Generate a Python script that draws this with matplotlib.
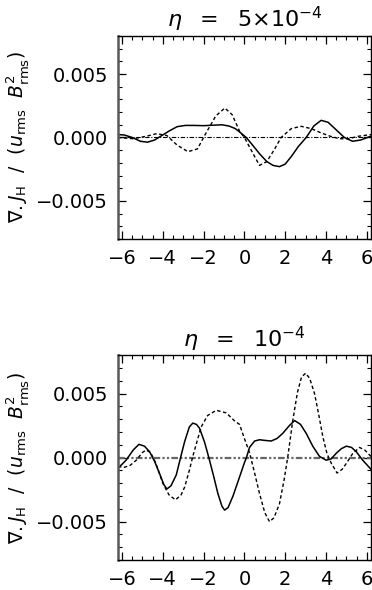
# -*- coding: utf-8 -*-
# two stacked panels of div J_H profiles for two eta values

import matplotlib as mpl
mpl.use('Agg')
import matplotlib.pyplot as plt
import matplotlib.ticker as mtick

mpl.rcParams['font.family'] = 'DejaVu Sans'
mpl.rcParams['font.size'] = 14
mpl.rcParams['mathtext.fontset'] = 'dejavusans'

# ---- top panel: eta = 5e-4 ----
top_solid_x = [-6.2, -5.9, -5.5, -5.1, -4.75, -4.4, -4.1, -3.7, -3.3, -2.9,
               -2.5, -2.0, -1.5, -1.1, -0.75, -0.45, -0.24, 0.09, 0.4, 0.75,
               1.1, 1.4, 1.72, 2.0, 2.3, 2.65, 3.03, 3.4, 3.76, 4.1,
               4.5, 4.9, 5.3, 5.7, 6.2]
top_solid_y = [0.00022, 0.0002, 0.0, -0.0003, -0.00037, -0.0002, 0.0001, 0.0005, 0.00085, 0.00095,
               0.00095, 0.00093, 0.00097, 0.001, 0.0009, 0.0007, 0.00044, 0.0, -0.0006, -0.0013,
               -0.0019, -0.0022, -0.0023, -0.0021, -0.0015, -0.0007, 0.0, 0.0009, 0.00135, 0.0012,
               0.0006, 0.0, -0.0003, -0.0002, 0.0001]

top_dash_x = [-6.2, -5.45, -4.8, -4.3, -3.8, -3.3, -2.77, -2.3, -1.9, -1.4,
              -0.96, -0.6, -0.24, 0.0, 0.4, 0.74, 1.1, 1.45, 1.8, 2.3,
              2.78, 3.27, 3.7, 4.2, 4.66, 5.1, 5.6, 6.2]
top_dash_y = [0.0, -0.0001, 0.0001, 0.0003, 0.00015, -0.0006, -0.00112, -0.0009, 0.0003, 0.0017,
              0.00232, 0.0018, 0.0005, 0.0, -0.0012, -0.0022, -0.0019, -0.001, 0.0, 0.0007,
              0.00088, 0.0007, 0.0004, 0.0001, -0.0001, -0.0001, 0.0001, 0.00023]

# ---- bottom panel: eta = 1e-4 ----
bot_solid_x = [-6.2, -5.8, -5.45, -5.17, -4.9, -4.65, -4.4, -4.17, -3.95, -3.8,
               -3.6, -3.34, -3.1, -2.93, -2.7, -2.53, -2.35, -2.2, -1.95, -1.71,
               -1.5, -1.3, -1.1, -0.97, -0.8, -0.56, -0.3, 0.0, 0.1, 0.25,
               0.5, 0.74, 1.0, 1.31, 1.6, 1.88, 2.2, 2.46, 2.75, 3.03,
               3.35, 3.68, 4.01, 4.25, 4.5, 4.75, 5.0, 5.25, 5.48, 5.8, 6.2]
bot_solid_y = [-0.00083, -0.0002, 0.0006, 0.00104, 0.0009, 0.00047, -0.0003, -0.0012, -0.0021, -0.00245,
               -0.0022, -0.00135, 0.0002, 0.00125, 0.0024, 0.0027, 0.0026, 0.0023, 0.0012, -0.0002,
               -0.0015, -0.0028, -0.0038, -0.0041, -0.0039, -0.003, -0.0018, -0.0004, 0.0, 0.0008,
               0.0013, 0.0014, 0.00135, 0.0013, 0.0015, 0.0019, 0.0025, 0.0029, 0.0026, 0.0019,
               0.0009, 0.0001, -0.0002, -0.0001, 0.00034, 0.0007, 0.0009, 0.0008, 0.00047, -0.0002, -0.0009]

bot_dash_x = [-6.2, -5.88, -5.6, -5.3, -5.0, -4.82, -4.6, -4.35, -4.0, -3.7,
              -3.38, -3.1, -2.93, -2.7, -2.53, -2.3, -2.12, -1.8, -1.38, -0.89,
              -0.5, -0.24, 0.0, 0.25, 0.5, 0.74, 1.0, 1.23, 1.45, 1.72,
              1.95, 2.13, 2.37, 2.6, 2.8, 3.0, 3.2, 3.44, 3.65, 3.85,
              4.05, 4.26, 4.54, 4.8, 5.0, 5.3, 5.64, 5.9, 6.2]
bot_dash_y = [-0.0007, -0.00075, -0.0006, -0.0002, 0.0004, 0.0006, 0.0004, -0.0004, -0.002, -0.0029,
              -0.0033, -0.0029, -0.0023, -0.001, 0.0001, 0.0014, 0.0024, 0.0033, 0.0037, 0.0035,
              0.0029, 0.0026, 0.0015, 0.0004, -0.0012, -0.0028, -0.0043, -0.005, -0.0047, -0.0036,
              -0.0017, 0.0001, 0.0029, 0.0051, 0.0063, 0.0066, 0.0062, 0.005, 0.0033, 0.0016,
              0.0003, -0.00044, -0.0012, -0.0009, -0.00044, 0.0003, 0.0008, 0.0006, 0.0001]

zero_x = [-6.2, 6.2]
zero_y = [0.0, 0.0]

titles = [r'$\eta\ \ =\ \ 5{\times}10^{-4}$', r'$\eta\ \ =\ \ 10^{-4}$']
ylabel = r'$\nabla.J_{\rm H}\ \ /\ \ (u_{\rm rms}\ \ B^2_{\rm rms})$'


def plotax(ax, sx, sy, dx, dy, title, zero_style):
    ax.plot(zero_x, zero_y, **zero_style)
    ax.plot(dx, dy, color='black', lw=1.0, linestyle=(0, (2.5, 1.8)))
    ax.plot(sx, sy, color='black', lw=1.1, solid_joinstyle='round')

    ax.set_xlim(-6.2, 6.2)
    ax.set_ylim(-0.008, 0.008)
    ax.xaxis.set_major_locator(mtick.MultipleLocator(2))
    ax.xaxis.set_minor_locator(mtick.MultipleLocator(0.5))
    ax.yaxis.set_major_locator(mtick.FixedLocator([-0.005, 0.0, 0.005]))
    ax.yaxis.set_minor_locator(mtick.MultipleLocator(0.001))
    ax.xaxis.set_major_formatter(mtick.FuncFormatter(
        lambda v, p: ('\u2212%d' % -v) if v < 0 else '%d' % v))
    ax.yaxis.set_major_formatter(mtick.FuncFormatter(
        lambda v, p: ('\u2212%.3f' % -v) if v < -1e-9 else '%.3f' % abs(v)))

    ax.tick_params(which='both', direction='in', top=True, right=True)
    ax.tick_params(which='major', length=6, width=0.9, pad=7)
    ax.tick_params(which='minor', length=3, width=0.8)
    for s in ax.spines.values():
        s.set_linewidth(1.0)
    ax.spines['left'].set_linewidth(1.8)
    ax.spines['left'].set_color('0.35')

    ax.set_title(title, fontsize=16, pad=6)
    ax.set_ylabel(ylabel, fontsize=13.5)
    ax.yaxis.set_label_coords(-0.345, 0.5)


fig = plt.figure(figsize=(3.72, 5.90), dpi=100)
ax1 = fig.add_axes([0.317, 0.595, 0.680, 0.344])
ax2 = fig.add_axes([0.317, 0.0508, 0.680, 0.347])

plotax(ax1, top_solid_x, top_solid_y, top_dash_x, top_dash_y, titles[0],
       dict(color='black', lw=0.8, linestyle=(0, (4, 1.5, 1, 1.5))))
plotax(ax2, bot_solid_x, bot_solid_y, bot_dash_x, bot_dash_y, titles[1],
       dict(color='0.4', lw=1.6, linestyle=(0, (3, 1, 1, 1, 1, 1))))

plt.savefig('out.png', dpi=100)
